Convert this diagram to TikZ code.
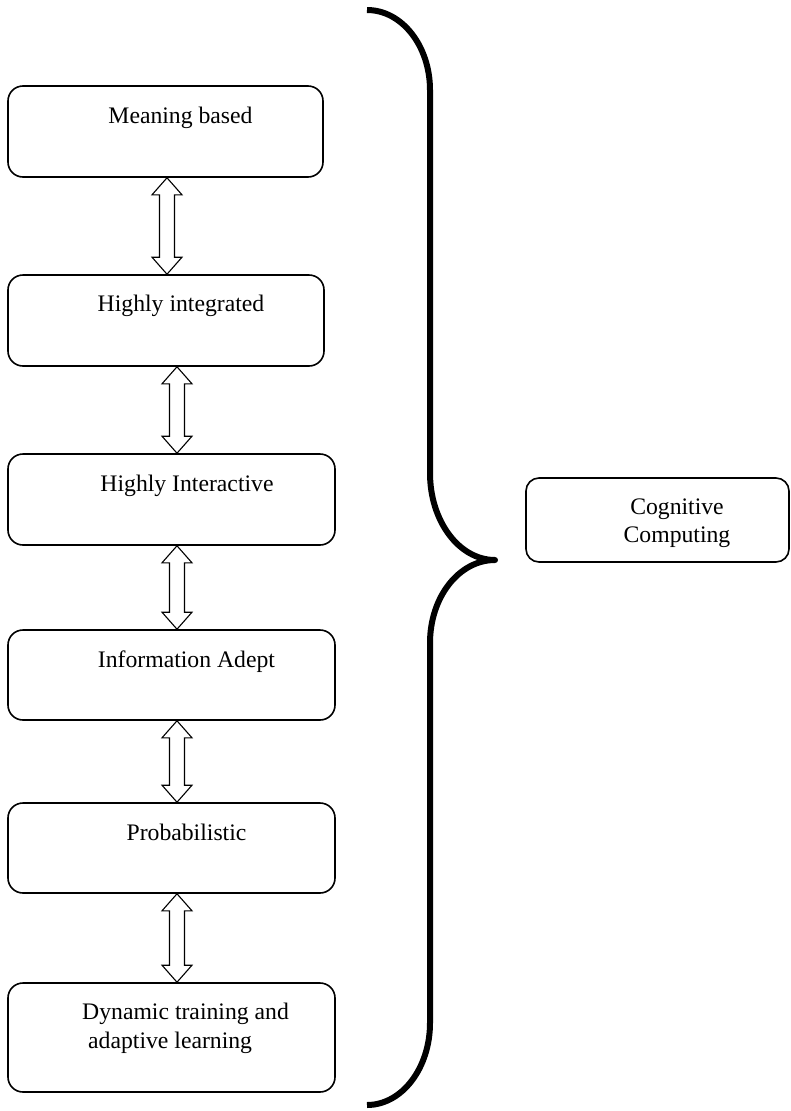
\documentclass[tikz,border=0pt]{standalone}
\usepackage{fontspec}
\setmainfont{Liberation Serif}
\usetikzlibrary{calc}
\begin{document}
\begin{tikzpicture}[x=1bp,y=-1bp,
  box/.style={draw, line width=1.6bp, rounded corners=15bp, inner sep=0pt},
  lbl/.style={inner sep=0pt, anchor=base, font=\fontsize{23.7bp}{28bp}\selectfont},
  lblw/.style={lbl, anchor=base west},
  brace/.style={line width=6bp, line join=round},
  dblarrow/.style={draw, line width=1.1bp, fill=white, line join=miter,
    to path={let \p1=(\tikztostart), \p2=(\tikztotarget) in
      (\x1,\y1) -- (\x1-15bp,\y1-17bp) -- (\x1-7.5bp,\y1-17bp)
      -- (\x1-7.5bp,\y2+17bp) -- (\x1-15bp,\y2+17bp) -- (\x2,\y2)
      -- (\x1+15bp,\y2+17bp) -- (\x1+7.5bp,\y2+17bp)
      -- (\x1+7.5bp,\y1-17bp) -- (\x1+15bp,\y1-17bp) -- cycle}}]
\useasboundingbox (0,0) rectangle (791,1111);

% the six property boxes
\node[box, minimum width=315bp, minimum height=91bp]  (b1) at (165.5,131.5) {};
\node[box, minimum width=316bp, minimum height=91bp]  (b2) at (166,320.5) {};
\node[box, minimum width=327bp, minimum height=91bp]  (b3) at (171.5,499.5) {};
\node[box, minimum width=327bp, minimum height=90bp]  (b4) at (171.5,675) {};
\node[box, minimum width=327bp, minimum height=90bp]  (b5) at (171.5,848) {};
\node[box, minimum width=327bp, minimum height=109bp] (b6) at (171.5,1037.5) {};

% the summary box
\node[box, rounded corners=13bp, minimum width=263bp, minimum height=84bp] (cc) at (657.5,520) {};

% labels
\node[lbl] (t1) at (180.5,123) {Meaning based};
\node[lbl] (t2) at (181,311) {Highly integrated};
\node[lbl] (t3) at (187,491) {Highly Interactive};
\node[lbl] (t4) at (186.5,667) {Information Adept};
\node[lbl] (t5) at (186.5,840) {Probabilistic};
\node[lblw] (t6a) at (82,1019) {Dynamic training and};
\node[lblw] (t6b) at (88,1048) {adaptive learning};
\node[lbl] (tc1) at (677,514) {Cognitive};
\node[lbl] (tc2) at (677,542) {Computing};

% two-way block arrows between neighbouring boxes
\coordinate (a1s) at (b1.south -| 167,0);
\coordinate (a1e) at (b2.north -| 167,0);
\coordinate (a2s) at (b2.south -| 177,0);
\coordinate (a2e) at (b3.north -| 177,0);
\coordinate (a3s) at (b3.south -| 177,0);
\coordinate (a3e) at (b4.north -| 177,0);
\coordinate (a4s) at (b4.south -| 177,0);
\coordinate (a4e) at (b5.north -| 177,0);
\coordinate (a5s) at (b5.south -| 177,0);
\coordinate (a5e) at (b6.north -| 177,0);
\draw[dblarrow] (a1s) to (a1e);
\draw[dblarrow] (a2s) to (a2e);
\draw[dblarrow] (a3s) to (a3e);
\draw[dblarrow] (a4s) to (a4e);
\draw[dblarrow] (a5s) to (a5e);

% curly brace gathering the boxes
\coordinate (brtop) at (367,10);
\coordinate (brtip) at (495,560);
\coordinate (brbot) at (367,1105);
\draw[brace] (brtop)
  .. controls (402,10) and (430,46) .. (430,90)
  -- (430,473)
  .. controls (430,521) and (459,560) .. (brtip)
  .. controls (459,560) and (430,597) .. (430,643)
  -- (430,1023)
  .. controls (430,1068) and (402,1105) .. (brbot);
\end{tikzpicture}
\end{document}
